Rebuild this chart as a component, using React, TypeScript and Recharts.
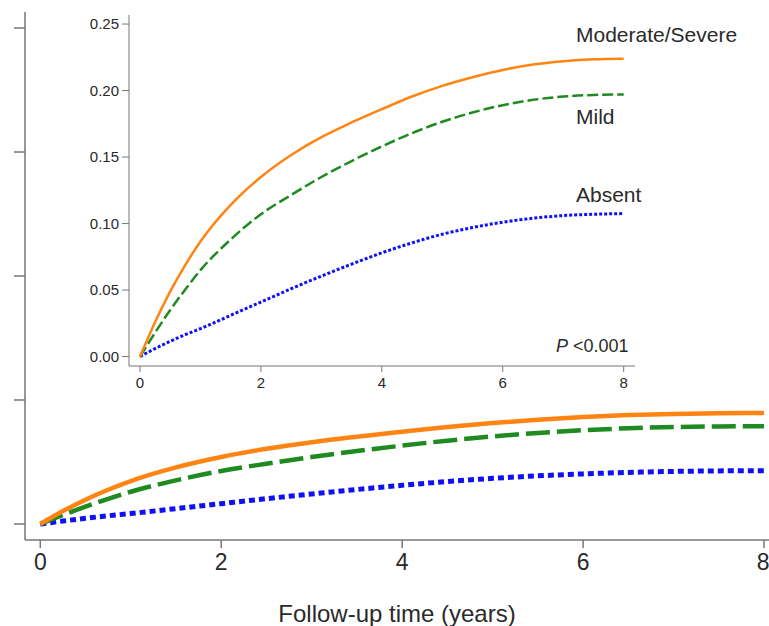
import React from "react";
import { LineChart, Line, XAxis, YAxis } from "recharts";

// follow-up time (years) and cumulative incidence per group
const years = [0, 0.25, 0.5, 0.75, 1, 1.5, 2, 2.5, 3, 3.5, 4, 4.5, 5, 5.5, 6, 6.5, 7, 7.5, 8];
const moderateSevere = [0, 0.026, 0.049, 0.069, 0.0865, 0.114, 0.135, 0.1515, 0.165, 0.176, 0.186, 0.1955, 0.2035, 0.21, 0.2155, 0.2195, 0.222, 0.2235, 0.224];
const mild = [0, 0.018, 0.035, 0.0505, 0.065, 0.088, 0.107, 0.1215, 0.135, 0.147, 0.158, 0.168, 0.1765, 0.1835, 0.189, 0.193, 0.1955, 0.1967, 0.197];
const absent = [0, 0.006, 0.0115, 0.0165, 0.021, 0.031, 0.041, 0.051, 0.0605, 0.0695, 0.078, 0.0855, 0.092, 0.097, 0.101, 0.104, 0.106, 0.107, 0.1075];

const xTicks = [0, 2, 4, 6, 8];
const mainYTicks = [0, 0.25, 0.5, 0.75, 1];
const insetYTicks = [0, 0.05, 0.1, 0.15, 0.2, 0.25];

const data = years.map((t, i) => ({
  t,
  severe: moderateSevere[i],
  mild: mild[i],
  absent: absent[i],
}));

const FONT = "'Liberation Sans', Arial, sans-serif";
const ORANGE = "#FF8412";
const GREEN = "#1F8A1F";
const BLUE = "#1010F5";
const AXIS = "#777";
const TEXT = "#2a2a2a";

export default function App() {
  return (
    <div
      style={{
        position: "absolute",
        left: 0,
        top: 0,
        width: 769,
        height: 626,
        background: "#fff",
        fontFamily: FONT,
      }}
    >
      {/* main chart, 0-1 scale */}
      <div style={{ position: "absolute", left: 0, top: 0 }}>
        <LineChart width={769} height={626} data={data} margin={{ top: 12, right: 0, left: 0, bottom: 0 }}>
          <XAxis
            dataKey="t"
            type="number"
            domain={[-0.169, 8.055]}
            allowDataOverflow
            ticks={xTicks}
            height={86}
            tickSize={8}
            tickMargin={6}
            stroke={AXIS}
            strokeWidth={1.5}
            fontSize={23}
            tick={{ fontSize: 23, fill: TEXT, fontFamily: FONT }}
            label={{
              value: "Follow-up time (years)",
              position: "insideBottom",
              offset: 4,
              fontSize: 24,
              fill: TEXT,
              fontFamily: FONT,
            }}
          />
          <YAxis
            type="number"
            domain={[-0.0323, 1.0323]}
            allowDataOverflow
            ticks={mainYTicks}
            width={25}
            tickSize={11}
            tickFormatter={() => ""}
            stroke={AXIS}
            strokeWidth={1.5}
          />
          <Line type="monotone" dataKey="absent" stroke={BLUE} strokeWidth={5} strokeDasharray="6 4" dot={false} activeDot={false} isAnimationActive={false} />
          <Line type="monotone" dataKey="mild" stroke={GREEN} strokeWidth={4.5} strokeDasharray="24 7" dot={false} activeDot={false} isAnimationActive={false} />
          <Line type="monotone" dataKey="severe" stroke={ORANGE} strokeWidth={4.5} dot={false} activeDot={false} isAnimationActive={false} />
        </LineChart>
      </div>

      {/* inset, zoomed 0-0.25 */}
      <div style={{ position: "absolute", left: 80, top: 0 }}>
        <LineChart width={560} height={400} data={data} margin={{ top: 15, right: 5, left: 0, bottom: 0 }}>
          <XAxis
            dataKey="t"
            type="number"
            domain={[-0.182, 8.187]}
            allowDataOverflow
            ticks={xTicks}
            height={34}
            tickSize={6}
            tickMargin={5}
            stroke={AXIS}
            fontSize={15}
            tick={{ fontSize: 15, fill: TEXT, fontFamily: FONT }}
          />
          <YAxis
            type="number"
            domain={[-0.0071, 0.2568]}
            allowDataOverflow
            ticks={insetYTicks}
            width={49}
            tickSize={7}
            tickMargin={3}
            stroke={AXIS}
            fontSize={15}
            tickFormatter={(v: number) => v.toFixed(2)}
            tick={{ fontSize: 15, fill: TEXT, fontFamily: FONT }}
          />
          <Line type="monotone" dataKey="absent" stroke={BLUE} strokeWidth={3} strokeDasharray="3 2" dot={false} activeDot={false} isAnimationActive={false} />
          <Line type="monotone" dataKey="mild" stroke={GREEN} strokeWidth={2.5} strokeDasharray="11 4" dot={false} activeDot={false} isAnimationActive={false} />
          <Line type="monotone" dataKey="severe" stroke={ORANGE} strokeWidth={2.5} dot={false} activeDot={false} isAnimationActive={false} />
        </LineChart>
      </div>

      {/* group labels and p-value */}
      <svg width={769} height={626} style={{ position: "absolute", left: 0, top: 0, pointerEvents: "none" }}>
        <g fontFamily={FONT} fill={TEXT}>
          <text x={576} y={42} fontSize={21}>Moderate/Severe</text>
          <text x={576} y={123.5} fontSize={21}>Mild</text>
          <text x={576} y={202} fontSize={21}>Absent</text>
          <text x={628.5} y={352} fontSize={18} textAnchor="end">
            <tspan fontStyle="italic">P</tspan> &lt;0.001
          </text>
        </g>
      </svg>
    </div>
  );
}
